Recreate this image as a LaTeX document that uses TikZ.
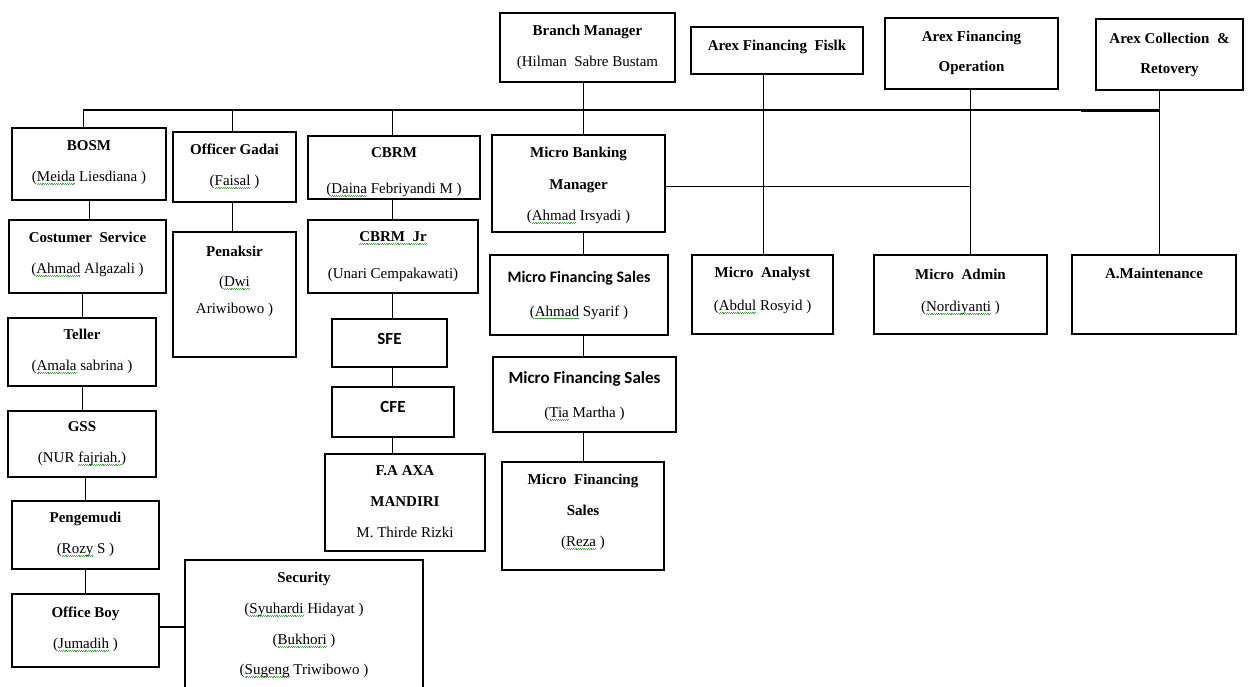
\documentclass[tikz,border=0pt]{standalone}
\usepackage{fontspec}
\setmainfont{Liberation Serif}
\newfontfamily\calfont{Carlito}
\definecolor{sqg}{RGB}{70,165,70}
\newsavebox\sqbox
\newcommand\sq[1]{\sbox\sqbox{#1}\leavevmode\rlap{\lower2.8pt\hbox to\wd\sqbox{\color{sqg}\xleaders\hbox{\rule{0.9pt}{0.6pt}\raise0.7pt\hbox{\rule{0.9pt}{0.6pt}}}\hfil}}\usebox\sqbox}
\tikzset{
  obox/.style={draw=black, line width=1.1pt, rectangle, inner sep=0pt, outer sep=0pt},
  otxt/.style={inner sep=0pt, outer sep=0pt, align=center, font=\fontsize{15}{31}\selectfont, anchor=north},
  stxt/.style={inner sep=0pt, outer sep=0pt, align=center, font=\calfont\bfseries\fontsize{17}{34}\selectfont, anchor=north},
  conn/.style={draw=black, line width=0.9pt},
  bar/.style={draw=black, line width=1.2pt},
  barthick/.style={draw=black, line width=1.9pt},
  thick conn/.style={draw=black, line width=2.6pt}
}
% #1 name, #2 x1, #3 y1, #4 x2, #5 y2, #6 text top, #7 style, #8 text
\newcommand\orgbox[8]{%
  \node[obox, minimum width={(#4)-(#2)}, minimum height={(#5)-(#3)}] (#1) at ({((#2)+(#4))/2},{((#3)+(#5))/2}) {};
  \node[#7] (#1-t) at ({((#2)+(#4))/2},#6) {#8};
}
\begin{document}
\begin{tikzpicture}[x=1pt,y=-1pt]
\useasboundingbox (0,0) rectangle (1253,687);

% top row
\orgbox{bm}{500}{13}{675}{82}{25}{otxt}{\textbf{Branch Manager}\\(Hilman\ \ Sabre Bustam}
\orgbox{af}{691}{27}{863}{74}{40}{otxt}{\textbf{Arex Financing\ \ Fislk}}
\orgbox{ao}{885}{18}{1058}{89}{31}{otxt}{\textbf{Arex Financing}\\[-1pt]\textbf{Operation}}
\orgbox{ac}{1096}{19}{1243}{90}{33}{otxt}{\textbf{Arex Collection\ \ \&}\\[-1pt]\textbf{Retovery}}

% second row
\orgbox{bosm}{12}{128}{166}{200}{141}{otxt}{\textbf{BOSM}\\(\sq{Meida} Liesdiana )}
\orgbox{og}{173}{132}{296}{202}{144}{otxt}{\textbf{Officer Gadai}\\(\sq{Faisal} )}
\orgbox{cbrm}{308}{136}{480}{199}{148}{otxt}{\textbf{CBRM}\\[5pt](\sq{Daina} Febriyandi M )}
\orgbox{mbm}{492}{135}{665}{232}{147}{otxt}{\textbf{Micro Banking}\\[1pt]\textbf{Manager}\\(\sq{Ahmad} Irsyadi )}

% left column
\orgbox{cs}{9}{220}{166}{293}{232}{otxt}{\textbf{Costumer\ \ Service}\\(\sq{Ahmad} Algazali )}
\orgbox{tel}{8}{318}{156}{386}{329}{otxt}{\textbf{Teller}\\(\sq{Amala} sabrina )}
\orgbox{gss}{8}{411}{156}{477}{422}{otxt}{\textbf{GSS}\\(NUR \sq{fajriah.})}
\orgbox{peng}{12}{501}{159}{569}{512}{otxt}{\textbf{Pengemudi}\\(\sq{Rozy} S )}
\orgbox{ob}{12}{594}{159}{667}{607}{otxt}{\textbf{Office Boy}\\(\sq{Jumadih} )}
\orgbox{sec}{185}{560}{423}{700}{572}{otxt}{\textbf{Security}\\(\sq{Syuhardi} Hidayat )\\(\sq{Bukhori} )\\[-1pt](\sq{Sugeng} Triwibowo )}

% gadai column
\orgbox{pen}{173}{232}{296}{357}{246}{otxt}{\textbf{Penaksir}\\[-1pt](\sq{Dwi}\\[-4pt]Ariwibowo )}

% CBRM column
\orgbox{cbjr}{308}{220}{478}{293}{232}{otxt}{\textbf{\sq{CBRM\ \ Jr}}\\[6pt](Unari Cempakawati)}
\orgbox{sfe}{332}{319}{447}{367}{333}{stxt}{SFE}
\orgbox{cfe}{332}{387}{454}{437}{401}{stxt}{CFE}
\orgbox{fa}{325}{454}{485}{551}{466}{otxt}{\textbf{F.A AXA}\\\textbf{MANDIRI}\\M. Thirde Rizki}

% micro column
\orgbox{mfs1}{490}{255}{668}{335}{271}{stxt}{\fontsize{16}{34}\selectfont Micro Financing Sales\\{\rmfamily\mdseries\fontsize{15}{31}\selectfont(\sq{Ahmad} Syarif )}}
\orgbox{mfs2}{493}{357}{676}{432}{372}{stxt}{Micro Financing Sales\\{\rmfamily\mdseries\fontsize{15}{31}\selectfont(\sq{Tia} Martha )}}
\orgbox{mfs3}{502}{462}{664}{570}{474}{otxt}{\textbf{Micro\ \ Financing}\\\textbf{Sales}\\(\sq{Reza} )}

% right row
\orgbox{man}{692}{255}{833}{334}{267}{otxt}{\textbf{Micro\ \ Analyst}\\[2pt](\sq{Abdul} Rosyid )}
\orgbox{madm}{874}{255}{1047}{334}{269}{otxt}{\textbf{Micro\ \ Admin}\\[1pt](\sq{Nordiyanti} )}
\orgbox{amt}{1072}{255}{1236}{334}{268}{otxt}{\textbf{A.Maintenance}}

% reference coordinates
\coordinate (barL) at (83,110);
\coordinate (barR) at (1159,110);
\coordinate (vOG) at (232,110);
\coordinate (vCB) at (392,110);
\coordinate (vBM) at (583,110);
\coordinate (vAF) at (763,110);
\coordinate (vAO) at (970,110);
\coordinate (hMB) at (970,186);
\coordinate (hOB) at (172,627);

% main bar
\draw[bar] (barL) -- (barR);
\draw[barthick] (barL) ++(158,0) -- ++(104,0);
\draw[barthick] (vBM) ++(-60,0) -- ++(52,0);
\draw[barthick] (vAO) ++(111,1.2) -- (barR |- 0,111.2);

% branch manager down
\draw[conn] (bm.south -| vBM) -- (mbm.north -| vBM);
% drops from bar
\draw[conn] (barL) -- (barL |- bosm.north);
\draw[conn] (vOG) -- (vOG |- og.north);
\draw[conn] (vCB) -- (vCB |- cbrm.north);
% arex verticals
\draw[conn] (af.south -| vAF) -- (man.north -| vAF);
\draw[conn] (ao.south -| vAO) -- (madm.north -| vAO);
\draw[conn] (ac.south -| barR) -- (amt.north -| barR);
% MBM to right
\draw[conn] (mbm.east |- hMB) -- (hMB);

% left column chain
\draw[conn] (bosm.south) -- (bosm.south |- cs.north);
\draw[conn] (cs.south -| tel.north) -- (tel.north);
\draw[conn] (tel.south) -- (tel.south |- gss.north);
\draw[conn] (gss.south -| peng.north) -- (peng.north);
\draw[conn] (peng.south) -- (peng.south |- ob.north);
\draw[thick conn] (ob.east |- hOB) -- (sec.west |- hOB);

% gadai chain
\draw[conn] (og.south -| vOG) -- (pen.north -| vOG);

% CBRM chain
\draw[conn] (cbrm.south -| vCB) -- (cbjr.north -| vCB);
\draw[conn] (cbjr.south -| vCB) -- (sfe.north -| vCB);
\draw[conn] (sfe.south -| vCB) -- (cfe.north -| vCB);
\draw[conn] (cfe.south -| vCB) -- (fa.north -| vCB);

% micro chain
\draw[conn] (mbm.south -| vBM) -- (mfs1.north -| vBM);
\draw[conn] (mfs1.south -| vBM) -- (mfs2.north -| vBM);
\draw[conn] (mfs2.south -| vBM) -- (mfs3.north -| vBM);
\end{tikzpicture}
\end{document}
